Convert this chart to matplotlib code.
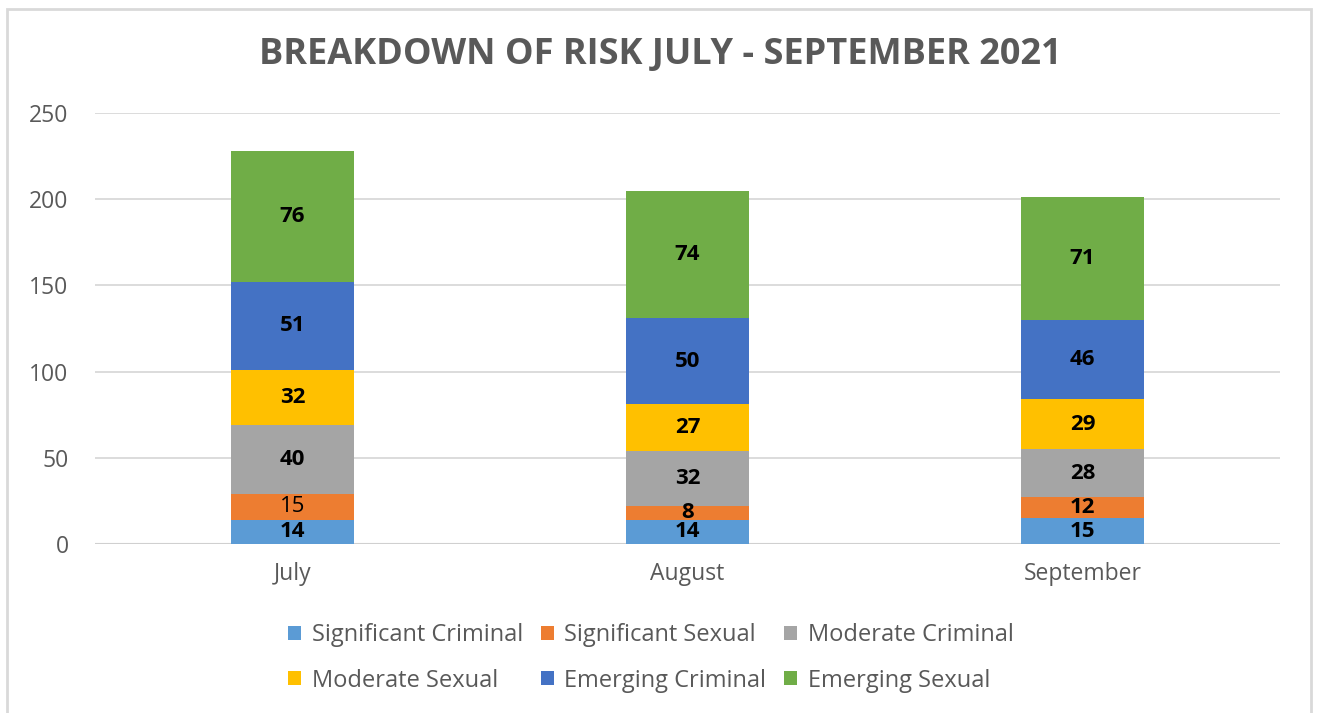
import matplotlib.pyplot as plt
from matplotlib.patches import Rectangle, Patch

plt.rcParams['font.family'] = ['Open Sans', 'DejaVu Sans']

months = ["July", "August", "September"]
sig_criminal = [14, 14, 15]
sig_sexual = [15, 8, 12]
mod_criminal = [40, 32, 28]
mod_sexual = [32, 27, 29]
emg_criminal = [51, 50, 46]
emg_sexual = [76, 74, 71]

series = [
    ("Significant Criminal", sig_criminal, "#5B9BD5"),
    ("Significant Sexual", sig_sexual, "#ED7D31"),
    ("Moderate Criminal", mod_criminal, "#A5A5A5"),
    ("Moderate Sexual", mod_sexual, "#FFC000"),
    ("Emerging Criminal", emg_criminal, "#4472C4"),
    ("Emerging Sexual", emg_sexual, "#70AD47"),
]

W, H = 1319, 713
fig = plt.figure(figsize=(W / 100, H / 100), dpi=100)
ax = fig.add_axes([95 / W, 1 - 544 / H, 1185 / W, 431 / H])

# chart frame
fig.patches.append(Rectangle((7 / W, -0.05), 1304 / W, 1 - 9 / H + 0.05,
                             transform=fig.transFigure, fill=False,
                             edgecolor="#D9D9D9", linewidth=2))

x = range(len(months))
bottom = [0, 0, 0]
handles = []
for name, vals, col in series:
    bars = ax.bar(x, vals, 0.31, bottom=bottom, color=col, zorder=3)
    for i, b in enumerate(bars):
        weight = "normal" if (name == "Significant Sexual" and i == 0) else "bold"
        ax.text(b.get_x() + b.get_width() / 2, bottom[i] + vals[i] / 2, str(vals[i]),
                ha="center", va="center", fontsize=16, fontweight=weight,
                color="black", zorder=4)
    bottom = [bottom[i] + vals[i] for i in range(len(vals))]
    handles.append(Patch(facecolor=col, label=name))

ax.set_xlim(-0.5, 2.5)
ax.set_ylim(0, 250)
ax.set_yticks(range(0, 251, 50))
ax.set_xticks(list(x))
ax.set_xticklabels(months)
ax.grid(axis="y", color="#D9D9D9", linewidth=1.3, zorder=0)
for s in ["top", "right", "left", "bottom"]:
    ax.spines[s].set_visible(False)
ax.axhline(0, color="#D0D0D0", linewidth=1.5, zorder=2)
ax.tick_params(length=0, labelsize=16.5, colors="#595959")
ax.tick_params(axis="x", pad=13)
ax.tick_params(axis="y", pad=19)

fig.text(660 / W, 1 - 55 / H, "BREAKDOWN OF RISK JULY - SEPTEMBER 2021",
         ha="center", va="center", fontsize=26, fontweight="bold", color="#595959")

order = [0, 3, 1, 4, 2, 5]
leg = fig.legend([handles[i] for i in order], [series[i][0] for i in order],
                 loc="center", bbox_to_anchor=(651 / W, 1 - 658 / H), ncol=3,
                 frameon=False, fontsize=17, handlelength=0.55, handleheight=0.55,
                 handletextpad=0.45, columnspacing=0.75, labelspacing=0.9,
                 labelcolor="#595959")

fig.savefig("out.png", dpi=100)
